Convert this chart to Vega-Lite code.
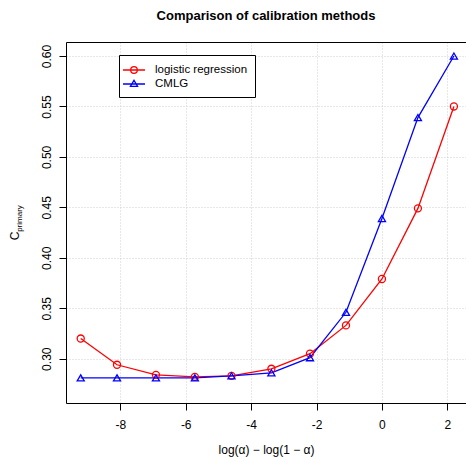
{
  "$schema": "https://vega.github.io/schema/vega-lite/v6.json",
  "width": 400,
  "height": 361,
  "autosize": {"type": "none"},
  "padding": {"left": 66, "top": 42, "right": 0, "bottom": 54},
  "background": "white",
  "title": {"text": "Comparison of calibration methods", "font": "Liberation Sans", "fontSize": 13, "fontWeight": "bold", "color": "black", "offset": 19},
  "config": {
    "view": {"stroke": null},
    "axis": {
      "domainColor": "black", "domainWidth": 1, "tickColor": "black", "tickWidth": 1, "tickSize": 7,
      "labelColor": "black", "titleColor": "black", "labelFont": "Liberation Sans", "titleFont": "Liberation Sans",
      "labelFontSize": 12, "titleFontSize": 12, "titleFontWeight": "normal",
      "gridColor": "#cfcfcf", "gridDash": [1, 2], "gridWidth": 1
    }
  },
  "data": {"values": [
    {"x": -9.21, "c": 0.320, "method": "logistic regression"},
    {"x": -8.10, "c": 0.294, "method": "logistic regression"},
    {"x": -6.91, "c": 0.284, "method": "logistic regression"},
    {"x": -5.72, "c": 0.282, "method": "logistic regression"},
    {"x": -4.60, "c": 0.283, "method": "logistic regression"},
    {"x": -3.38, "c": 0.290, "method": "logistic regression"},
    {"x": -2.20, "c": 0.305, "method": "logistic regression"},
    {"x": -1.10, "c": 0.333, "method": "logistic regression"},
    {"x": 0.00, "c": 0.379, "method": "logistic regression"},
    {"x": 1.10, "c": 0.449, "method": "logistic regression"},
    {"x": 2.20, "c": 0.550, "method": "logistic regression"},
    {"x": -9.21, "c": 0.281, "method": "CMLG"},
    {"x": -8.10, "c": 0.281, "method": "CMLG"},
    {"x": -6.91, "c": 0.281, "method": "CMLG"},
    {"x": -5.72, "c": 0.281, "method": "CMLG"},
    {"x": -4.60, "c": 0.283, "method": "CMLG"},
    {"x": -3.38, "c": 0.286, "method": "CMLG"},
    {"x": -2.20, "c": 0.301, "method": "CMLG"},
    {"x": -1.10, "c": 0.346, "method": "CMLG"},
    {"x": 0.00, "c": 0.439, "method": "CMLG"},
    {"x": 1.10, "c": 0.539, "method": "CMLG"},
    {"x": 2.20, "c": 0.600, "method": "CMLG"}
  ]},
  "resolve": {"axis": {"x": "independent", "y": "independent"}},
  "layer": [
    {
      "mark": {"type": "line", "strokeWidth": 1.3},
      "encoding": {
        "x": {"field": "x", "type": "quantitative", "scale": {"domain": [-9.66, 2.57], "nice": false, "zero": false},
          "axis": {"orient": "bottom", "values": [-8, -6, -4, -2, 0, 2], "labelExpr": "'' + datum.value", "labelPadding": 9, "grid": true,
            "title": "log(α) − log(1 − α)", "titlePadding": 14}},
        "y": {"field": "c", "type": "quantitative", "scale": {"domain": [0.2561, 0.6139], "nice": false, "zero": false},
          "axis": {"orient": "left", "values": [0.30, 0.35, 0.40, 0.45, 0.50, 0.55, 0.60], "format": ".2f", "labelAngle": 270, "labelPadding": 6, "grid": true,
            "title": "C", "titleFontSize": 12, "titleAngle": 270, "titleAlign": "center", "titleBaseline": "alphabetic", "titleX": -47.5, "titleY": 193.5}},
        "color": {"field": "method", "type": "nominal",
          "scale": {"domain": ["logistic regression", "CMLG"], "range": ["#FF0000", "#0000FF"]},
          "legend": {
            "orient": "none", "legendX": 53, "legendY": 13, "title": null,
            "strokeColor": "black", "fillColor": "white", "padding": 7,
            "labelFont": "Liberation Sans", "labelFontSize": 11.5, "labelColor": "black",
            "symbolSize": 196, "labelOffset": 13, "rowPadding": 0,
            "encode": {"symbols": {"update": {
              "shape": {"signal": "datum.value === 'CMLG' ? 'M-1.57,0H1.57M0,-0.54L0.51,0.33L-0.51,0.33Z' : 'M-1.57,0H1.57M0.47,0A0.47,0.47,0,1,1,-0.47,0A0.47,0.47,0,1,1,0.47,0'"},
              "fill": {"value": "transparent"},
              "stroke": {"signal": "datum.value === 'CMLG' ? '#0000FF' : '#FF0000'"},
              "strokeWidth": {"value": 1.3}
            }}}
          }}
      }
    },
    {
      "transform": [{"filter": "datum.method === 'logistic regression'"}],
      "mark": {"type": "point", "shape": "circle", "filled": false, "strokeWidth": 1.3, "size": 50, "opacity": 1, "color": "#FF0000"},
      "encoding": {
        "x": {"field": "x", "type": "quantitative",
          "axis": {"orient": "top", "labels": false, "ticks": false, "grid": false, "title": null}},
        "y": {"field": "c", "type": "quantitative",
          "axis": {"orient": "right", "domain": false, "labels": false, "ticks": false, "grid": false,
            "title": "primary", "titleFontSize": 8, "titleAngle": 270, "titleAlign": "center", "titleBaseline": "alphabetic", "titleX": -445, "titleY": 176}}
      }
    },
    {
      "transform": [{"filter": "datum.method === 'CMLG'"}],
      "mark": {"type": "point", "shape": "triangle-up", "filled": false, "strokeWidth": 1.3, "size": 50, "opacity": 1, "color": "#0000FF"},
      "encoding": {
        "x": {"field": "x", "type": "quantitative", "axis": null},
        "y": {"field": "c", "type": "quantitative", "axis": null}
      }
    }
  ]
}
